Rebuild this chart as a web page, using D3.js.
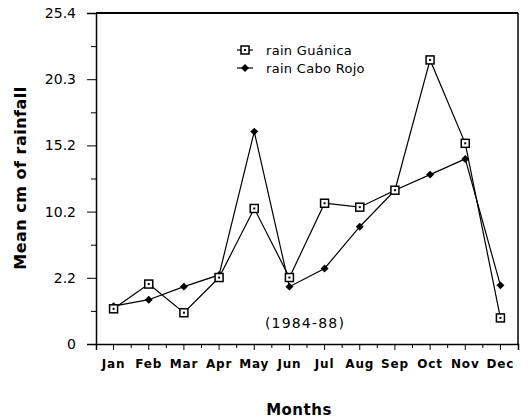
<!DOCTYPE html>
<html>
<head>
<meta charset="utf-8">
<script src="https://cdn.jsdelivr.net/npm/d3@7"></script>
<style>
  body { margin: 0; background: #fff; }
  text { font-family: "DejaVu Sans", sans-serif; fill: #000; }
</style>
</head>
<body>
<div id="chart"></div>
<script>
// months on the x axis
const months = ["Jan", "Feb", "Mar", "Apr", "May", "Jun", "Jul", "Aug", "Sep", "Oct", "Nov", "Dec"];

// mean cm of rainfall
const rainGuanica = [2.7, 4.6, 2.4, 5.1, 10.4, 5.1, 10.8, 10.5, 11.8, 21.8, 15.4, 2.0];
const rainCaboRojo = [2.9, 3.4, 4.4, 5.3, 16.3, 4.4, 5.8, 9.0, 11.8, 13.0, 14.2, 4.5];

// y tick positions and the labels printed on them (as in the original)
const yTickValues = [0, 5.08, 10.16, 15.24, 20.32, 25.4];
const yTickLabels = ["0", "2.2", "10.2", "15.2", "20.3", "25.4"];

const W = 530, H = 420;
const mLeft = 96, mRight = 518, mTop = 13, mBottom = 344;

let svg = d3.select("#chart")
  .append("svg")
  .attr("width", W)
  .attr("height", H);

let x = d3.scaleBand().domain(months).range([mLeft, mRight]);
let y = d3.scaleLinear().domain([0, 25.4]).range([mBottom, mTop]);

// frame top and right
svg.append("line")
  .attr("x1", mLeft).attr("x2", mRight)
  .attr("y1", mTop).attr("y2", mTop)
  .attr("stroke", "black").attr("stroke-width", 2);
svg.append("line")
  .attr("x1", mRight).attr("x2", mRight)
  .attr("y1", mTop).attr("y2", mBottom)
  .attr("stroke", "black").attr("stroke-width", 1.5);

// y axis
let yAxis = d3.axisLeft(y)
  .tickValues(yTickValues)
  .tickFormat((d, i) => yTickLabels[i])
  .tickSize(9)
  .tickPadding(11);
let gy = svg.append("g")
  .attr("transform", `translate(${mLeft},0)`)
  .call(yAxis);
gy.select(".domain").attr("stroke-width", 1.5);
gy.selectAll("text").style("font-size", "14px").style("font-family", "DejaVu Sans");

// minor y ticks halfway between majors
let yMinor = d3.axisLeft(y)
  .tickValues(d3.pairs(yTickValues).map(p => (p[0] + p[1]) / 2))
  .tickSize(5)
  .tickFormat("");
svg.append("g")
  .attr("transform", `translate(${mLeft},0)`)
  .call(yMinor)
  .select(".domain").remove();

// x axis, ticks at month centers
let xAxis = d3.axisBottom(x)
  .tickSize(6)
  .tickPadding(9);
let gx = svg.append("g")
  .attr("transform", `translate(0,${mBottom})`)
  .call(xAxis);
gx.select(".domain").attr("stroke-width", 1.5);
gx.selectAll("text")
  .style("font-size", "12px").style("font-weight", "bold")
  .style("letter-spacing", "0.8px");

// minor x ticks at band edges
svg.append("g")
  .selectAll("line")
  .data(months.slice(1))
  .join("line")
  .attr("x1", d => x(d)).attr("x2", d => x(d))
  .attr("y1", mBottom).attr("y2", mBottom + 4)
  .attr("stroke", "black");

let cx = d => x(d) + x.bandwidth() / 2;

let line = d3.line()
  .x((d, i) => cx(months[i]))
  .y(d => y(d));

// Cabo Rojo series
svg.append("path")
  .datum(rainCaboRojo)
  .attr("d", line)
  .attr("fill", "none")
  .attr("stroke", "black")
  .attr("stroke-width", 1.2);

// Guánica series
svg.append("path")
  .datum(rainGuanica)
  .attr("d", line)
  .attr("fill", "none")
  .attr("stroke", "black")
  .attr("stroke-width", 1.2);

let diamond = d3.symbol().type(d3.symbolDiamond2).size(40);

svg.append("g")
  .selectAll("path")
  .data(rainCaboRojo)
  .join("path")
  .attr("d", diamond)
  .attr("transform", (d, i) => `translate(${cx(months[i])},${y(d)})`)
  .attr("fill", "black");

function drawSquare(g, px, py) {
  g.append("rect")
    .attr("x", px - 4).attr("y", py - 4)
    .attr("width", 8).attr("height", 8)
    .attr("fill", "white").attr("stroke", "black").attr("stroke-width", 1.5);
  g.append("rect")
    .attr("x", px - 1).attr("y", py - 1)
    .attr("width", 2).attr("height", 2)
    .attr("fill", "black");
}

let sq = svg.append("g");
rainGuanica.forEach((d, i) => drawSquare(sq, cx(months[i]), y(d)));

// legend
let lg = svg.append("g");
lg.append("line")
  .attr("x1", 237).attr("x2", 253).attr("y1", 50).attr("y2", 50)
  .attr("stroke", "black").attr("stroke-width", 1.2);
drawSquare(lg, 245, 50);
lg.append("text").attr("x", 266).attr("y", 54.5)
  .style("font-size", "13px").style("letter-spacing", "0.3px")
  .text("rain Guánica");

lg.append("line")
  .attr("x1", 237).attr("x2", 253).attr("y1", 68).attr("y2", 68)
  .attr("stroke", "black").attr("stroke-width", 1.2);
lg.append("path")
  .attr("d", diamond)
  .attr("transform", "translate(245,68)")
  .attr("fill", "black");
lg.append("text").attr("x", 266).attr("y", 72.5)
  .style("font-size", "13px").style("letter-spacing", "0.3px")
  .text("rain Cabo Rojo");

// period note
svg.append("text")
  .attr("x", 305).attr("y", 328)
  .attr("text-anchor", "middle")
  .style("font-size", "14px").style("letter-spacing", "1.2px")
  .text("(1984-88)");

// axis titles
svg.append("text")
  .attr("x", 299).attr("y", 415)
  .attr("text-anchor", "middle")
  .style("font-size", "15px").style("font-weight", "bold")
  .style("letter-spacing", "0.5px")
  .text("Months");

svg.append("text")
  .attr("transform", "translate(26,178) rotate(-90)")
  .attr("text-anchor", "middle")
  .style("font-size", "16px").style("font-weight", "bold")
  .style("letter-spacing", "0.5px")
  .text("Mean cm of rainfall");
</script>
</body>
</html>
